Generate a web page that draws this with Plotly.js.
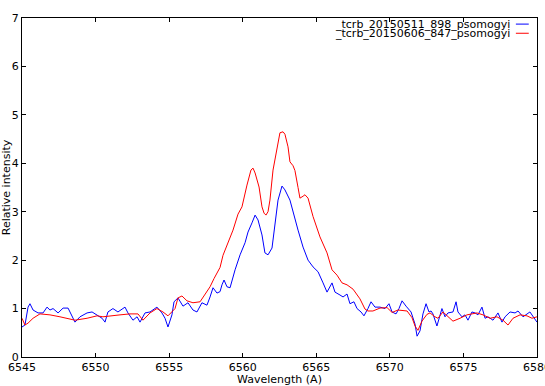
<!DOCTYPE html>
<html>
<head>
<meta charset="utf-8">
<script src="https://cdn.plot.ly/plotly-3.0.1.min.js"></script>
<style>html,body{margin:0;padding:0;background:#fff;}#chart{width:545px;height:386px;}</style>
</head>
<body>
<div id="chart"></div>
<script>
const seriesNames = ["_tcrb_20150511_898_psomogyi", "_tcrb_20150606_847_psomogyi"];
const seriesColors = ["#0000ff", "#ff0000"];

const blueWavelength = [6545.00,6545.20,6545.41,6545.54,6545.75,6546.09,6546.43,6546.70,6546.90,6547.11,6547.45,6547.79,6548.13,6548.40,6548.60,6548.94,6549.42,6549.76,6550.10,6550.44,6550.64,6550.84,6551.18,6551.52,6552.00,6552.20,6552.54,6552.82,6553.02,6553.36,6553.70,6554.17,6554.51,6554.72,6554.92,6555.19,6555.33,6555.60,6555.94,6556.28,6556.62,6556.89,6557.23,6557.57,6557.78,6557.98,6558.25,6558.46,6558.59,6558.73,6558.93,6559.14,6559.48,6559.82,6560.16,6560.36,6560.63,6560.84,6561.04,6561.31,6561.51,6561.72,6561.99,6562.19,6562.40,6562.67,6562.87,6563.21,6563.55,6563.76,6564.10,6564.44,6564.78,6565.12,6565.46,6565.73,6566.07,6566.27,6566.61,6566.82,6567.09,6567.29,6567.56,6567.77,6568.04,6568.24,6568.51,6568.72,6568.99,6569.33,6569.67,6569.94,6570.15,6570.42,6570.62,6570.83,6571.10,6571.44,6571.71,6571.85,6572.05,6572.25,6572.46,6572.66,6572.80,6572.93,6573.20,6573.54,6573.75,6573.95,6574.29,6574.50,6574.63,6574.90,6575.11,6575.31,6575.58,6575.79,6575.99,6576.26,6576.47,6576.67,6577.01,6577.35,6577.62,6577.83,6578.17,6578.51,6578.71,6579.05,6579.52,6579.80,6580.00];
const blueIntensity = [0.62,0.66,1.03,1.10,0.97,0.91,0.91,1.03,0.97,1.00,0.91,1.01,1.01,0.83,0.72,0.83,0.91,0.93,0.87,0.80,0.72,0.93,1.00,0.93,1.03,0.91,0.76,0.83,0.72,0.91,0.93,1.03,0.91,0.80,0.62,0.87,1.14,1.22,1.05,1.12,0.97,0.93,1.12,1.07,1.24,1.43,1.32,1.35,1.49,1.59,1.45,1.43,1.80,2.11,2.36,2.58,2.77,2.93,2.83,2.52,2.15,2.11,2.25,2.77,3.24,3.53,3.45,3.24,2.83,2.62,2.27,2.00,1.86,1.76,1.53,1.34,1.53,1.34,1.28,1.24,1.30,1.10,1.14,1.00,0.93,0.85,1.00,1.14,1.03,1.03,1.00,1.10,0.93,0.89,1.00,1.16,1.05,0.93,0.68,0.43,0.54,0.89,1.10,0.93,0.95,0.89,0.64,1.00,0.83,0.91,0.93,1.14,0.93,0.83,0.87,0.76,0.93,0.91,0.87,1.03,0.80,0.83,0.76,0.91,0.72,0.83,0.93,0.91,0.95,0.83,0.93,0.80,0.72];

const redWavelength = [6545.00,6545.20,6545.41,6545.75,6546.22,6546.90,6547.58,6548.06,6548.60,6549.42,6550.10,6550.50,6550.98,6551.66,6552.34,6552.88,6553.22,6553.70,6554.17,6554.58,6554.92,6555.40,6555.60,6555.87,6556.21,6556.62,6557.10,6557.44,6557.78,6558.05,6558.32,6558.46,6558.66,6559.00,6559.34,6559.68,6559.95,6560.29,6560.56,6560.70,6560.84,6561.11,6561.31,6561.45,6561.58,6561.72,6561.85,6562.06,6562.33,6562.53,6562.74,6562.87,6563.08,6563.21,6563.42,6563.55,6563.76,6563.89,6564.10,6564.23,6564.44,6564.78,6565.25,6565.73,6566.07,6566.41,6566.75,6567.09,6567.50,6567.97,6568.31,6568.51,6568.85,6569.33,6569.81,6570.15,6570.55,6571.17,6571.51,6571.71,6571.91,6572.18,6572.52,6572.73,6573.07,6573.27,6573.61,6573.95,6574.29,6574.77,6575.24,6575.92,6576.33,6576.81,6577.28,6577.69,6578.03,6578.37,6578.85,6579.32,6579.66,6580.00];
const redIntensity = [0.80,0.66,0.70,0.80,0.89,0.87,0.83,0.80,0.76,0.80,0.85,0.83,0.85,0.87,0.89,0.89,0.76,0.91,1.00,0.93,0.85,1.00,1.22,1.26,1.16,1.12,1.14,1.30,1.45,1.62,1.76,1.85,2.10,2.38,2.62,2.95,3.10,3.55,3.86,3.90,3.80,3.51,3.10,2.97,2.93,3.00,3.24,3.86,4.34,4.63,4.65,4.60,4.34,4.03,3.95,3.85,3.50,3.28,3.32,3.35,3.28,2.90,2.48,2.15,1.80,1.69,1.53,1.49,1.40,1.20,0.99,0.95,0.95,1.01,1.02,0.92,0.97,0.95,0.81,0.64,0.55,0.74,0.88,0.91,0.83,0.80,0.93,0.83,0.74,0.80,0.87,0.91,0.87,0.80,0.83,0.76,0.66,0.80,0.87,0.85,0.80,0.83];

const xTicks = [6545,6550,6555,6560,6565,6570,6575,6580];
const yTicks = [0,1,2,3,4,5,6,7];

const FONT = "DejaVu Sans, Verdana, sans-serif";

const traces = [
  {x: blueWavelength, y: blueIntensity, type: "scatter", mode: "lines",
   line: {color: seriesColors[0], width: 1}, name: seriesNames[0], showlegend: false},
  {x: redWavelength, y: redIntensity, type: "scatter", mode: "lines",
   line: {color: seriesColors[1], width: 1}, name: seriesNames[1], showlegend: false}
];

const legendY = [0.982, 0.955];
const annotations = seriesNames.map((n, i) => ({
  xref: "paper", yref: "paper", x: 0.951, y: legendY[i], xanchor: "right", yanchor: "middle",
  text: n, showarrow: false, font: {family: FONT, size: 11, color: "#000"}
}));
const shapes = seriesNames.map((n, i) => ({
  type: "line", xref: "paper", yref: "paper", x0: 0.959, x1: 0.984, y0: legendY[i], y1: legendY[i],
  line: {color: seriesColors[i], width: 1}
}));

const layout = {
  width: 545, height: 386,
  margin: {l: 22, r: 8, t: 18, b: 29},
  paper_bgcolor: "#fff", plot_bgcolor: "#fff",
  font: {family: FONT, size: 11, color: "#000"},
  showlegend: false,
  xaxis: {
    range: [6544.999, 6580.001], tickvals: xTicks, ticktext: xTicks.map(String),
    ticklabeloverflow: "allow",
    showgrid: false, zeroline: false, showline: true, linecolor: "#000", linewidth: 1,
    mirror: "ticks", ticks: "inside", ticklen: 4, tickcolor: "#000",
    tickfont: {family: FONT, size: 11, color: "#000"},
    title: {text: "Wavelength (A)", font: {family: FONT, size: 11, color: "#000"}, standoff: 2}
  },
  yaxis: {
    range: [0, 7], tickvals: yTicks, ticktext: yTicks.map(String),
    showgrid: false, zeroline: false, showline: true, linecolor: "#000", linewidth: 1,
    mirror: "ticks", ticks: "inside", ticklen: 4, tickcolor: "#000",
    tickfont: {family: FONT, size: 11, color: "#000"},
    title: {text: "Relative intensity", font: {family: FONT, size: 11, color: "#000"}, standoff: 2}
  },
  annotations: annotations,
  shapes: shapes
};

Plotly.newPlot("chart", traces, layout, {displayModeBar: false, staticPlot: true});
</script>
</body>
</html>
